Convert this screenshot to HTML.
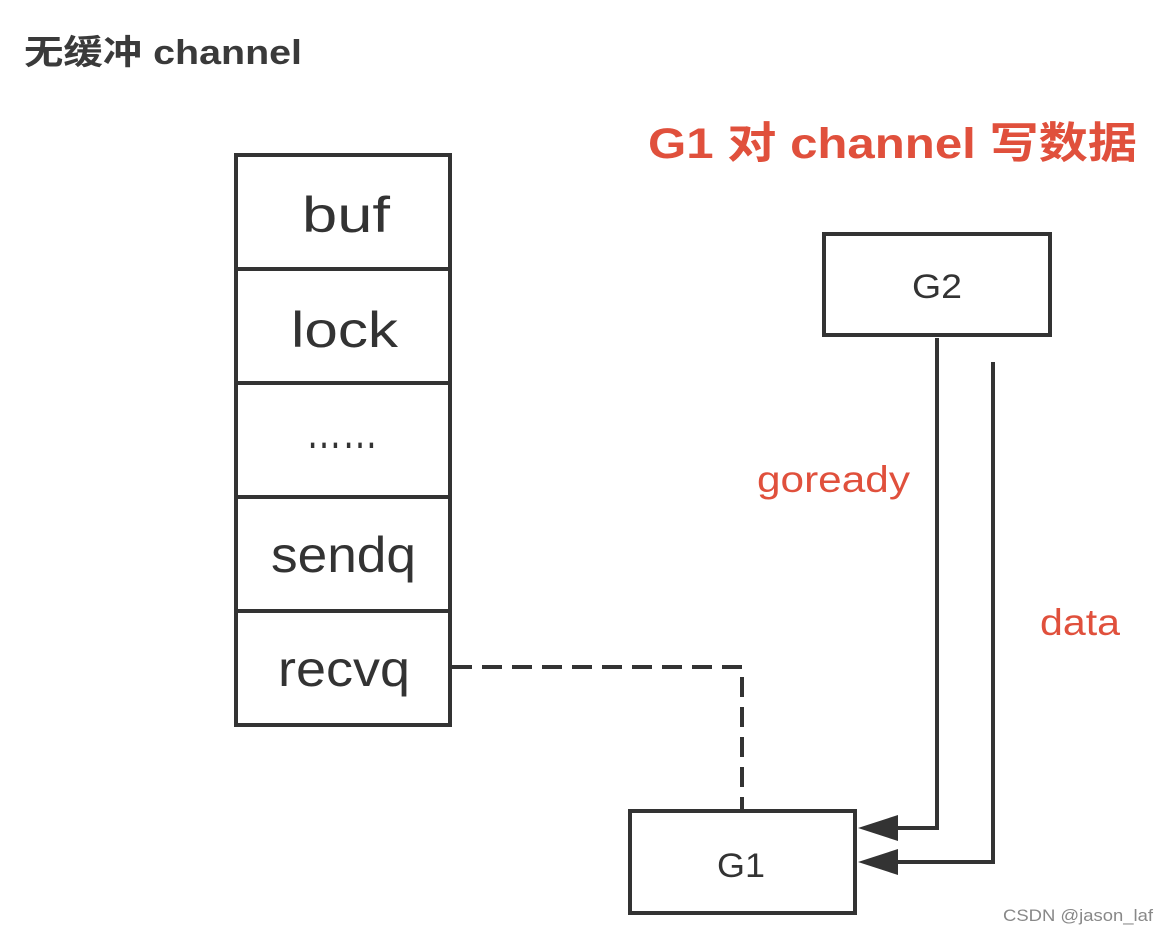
<!DOCTYPE html>
<html><head><meta charset="utf-8"><style>
body{margin:0;background:#fff;}
svg{display:block;}
</style></head><body>
<svg width="1168" height="936" viewBox="0 0 1168 936" xmlns="http://www.w3.org/2000/svg">
<rect width="1168" height="936" fill="#fff"/>
<text x="24" y="64" font-family="Liberation Sans, Noto Sans CJK SC, sans-serif" font-weight="bold" font-size="34" fill="#3a3a3a" textLength="278" lengthAdjust="spacingAndGlyphs">无缓冲 channel</text>
<text x="648" y="158" font-family="Liberation Sans, Noto Sans CJK SC, sans-serif" font-weight="bold" font-size="43" fill="#e0503c" textLength="489" lengthAdjust="spacingAndGlyphs">G1 对 channel 写数据</text>
<g stroke="#333" stroke-width="4" fill="none">
<rect x="236" y="155" width="214" height="570"/>
<line x1="236" y1="269" x2="450" y2="269"/>
<line x1="236" y1="383" x2="450" y2="383"/>
<line x1="236" y1="497" x2="450" y2="497"/>
<line x1="236" y1="611" x2="450" y2="611"/>
<rect x="824" y="234" width="226" height="101"/>
<rect x="630" y="811" width="225" height="102"/>
<polyline points="937,338 937,828 890,828"/>
<polyline points="993,362 993,862 890,862"/>
<polyline points="452,667 742,667 742,810" stroke-dasharray="20,10"/>
</g>
<polygon points="858,828 898,815 898,841" fill="#333"/>
<polygon points="858,862 898,849 898,875" fill="#333"/>
<g font-family="Liberation Sans, sans-serif" font-size="50" fill="#333" lengthAdjust="spacingAndGlyphs">
<text x="302" y="232" textLength="88" lengthAdjust="spacingAndGlyphs">buf</text>
<text x="291" y="347" textLength="107" lengthAdjust="spacingAndGlyphs">lock</text>
<text x="306" y="448" textLength="72" lengthAdjust="spacingAndGlyphs">……</text>
<text x="271" y="572" textLength="145" lengthAdjust="spacingAndGlyphs">sendq</text>
<text x="278" y="686" textLength="132" lengthAdjust="spacingAndGlyphs">recvq</text>
</g>
<g font-family="Liberation Sans, sans-serif" font-size="34" fill="#333">
<text x="912" y="298" textLength="50" lengthAdjust="spacingAndGlyphs">G2</text>
<text x="717" y="877" textLength="48" lengthAdjust="spacingAndGlyphs">G1</text>
</g>
<g font-family="Liberation Sans, sans-serif" font-size="37" fill="#e0503c">
<text x="757" y="492" textLength="153" lengthAdjust="spacingAndGlyphs">goready</text>
<text x="1040" y="635" textLength="80" lengthAdjust="spacingAndGlyphs">data</text>
</g>
<text x="1003" y="921" font-family="Liberation Sans, sans-serif" font-size="17" fill="#888" textLength="150" lengthAdjust="spacingAndGlyphs">CSDN @jason_laf</text>
</svg>
</body></html>
